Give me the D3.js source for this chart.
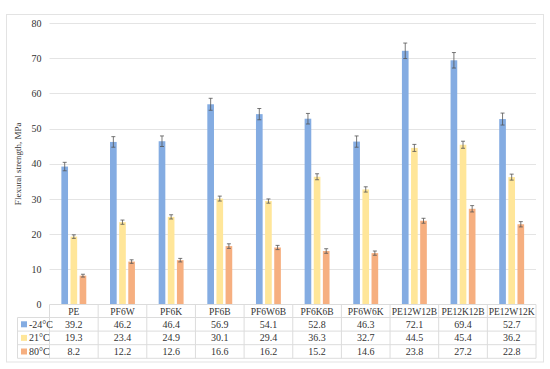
<!DOCTYPE html>
<html>
<head>
<meta charset="utf-8">
<script src="https://cdn.jsdelivr.net/npm/d3@7"></script>
<style>
  body { margin: 0; background: #fff; }
  svg { display: block; font-family: "Liberation Serif", "DejaVu Serif", serif; }
</style>
</head>
<body>
<svg id="chart" width="550" height="369"></svg>
<script>
"use strict";

const categories = ["PE", "PF6W", "PF6K", "PF6B", "PF6W6B", "PF6K6B", "PF6W6K", "PE12W12B", "PE12K12B", "PE12W12K"];
const seriesNames = ["-24°C", "21°C", "80°C"];
const seriesColors = ["#84ace2", "#ffe699", "#f6af80"];
const valsCold = [39.2, 46.2, 46.4, 56.9, 54.1, 52.8, 46.3, 72.1, 69.4, 52.7];
const valsRoom = [19.3, 23.4, 24.9, 30.1, 29.4, 36.3, 32.7, 44.5, 45.4, 36.2];
const valsHot = [8.2, 12.2, 12.6, 16.6, 16.2, 15.2, 14.6, 23.8, 27.2, 22.8];
const errCold = [1.2, 1.5, 1.5, 1.7, 1.6, 1.5, 1.6, 2.2, 2.2, 1.7];
const errRoom = [0.5, 0.6, 0.6, 0.7, 0.6, 0.85, 0.75, 1.0, 1.0, 0.85];
const errHot = [0.4, 0.5, 0.5, 0.65, 0.6, 0.65, 0.6, 0.7, 0.9, 0.75];
const yTicks = [0, 10, 20, 30, 40, 50, 60, 70, 80];

const series = [
  { name: seriesNames[0], color: seriesColors[0], values: valsCold, errs: errCold },
  { name: seriesNames[1], color: seriesColors[1], values: valsRoom, errs: errRoom },
  { name: seriesNames[2], color: seriesColors[2], values: valsHot, errs: errHot }
];

const svg = d3.select("#chart");
const plotLeft = 49.5, plotRight = 536, plotTop = 23, plotBottom = 304.5;
const tableLeft = 17.5, rowH = 13.6, headerH = 13;

// outer frame
svg.append("rect")
  .attr("x", 6.5).attr("y", 14.5)
  .attr("width", 537).attr("height", 347.5)
  .attr("fill", "none").attr("stroke", "#e3e3e3");

const x = d3.scaleBand().domain(categories).range([plotLeft, plotRight]);
const xs = d3.scaleBand().domain(seriesNames).range([0, x.bandwidth()]).paddingInner(0.27).paddingOuter(1.3);
const y = d3.scaleLinear().domain([0, 80]).range([plotBottom, plotTop]);

// gridlines
svg.append("g").selectAll("line").data(yTicks.slice(1)).join("line")
  .attr("x1", plotLeft).attr("x2", plotRight)
  .attr("y1", d => Math.round(y(d)) + 0.5).attr("y2", d => Math.round(y(d)) + 0.5)
  .attr("stroke", "#e4e4e4");

// y axis labels
const yAxis = d3.axisLeft(y).tickValues(yTicks).tickSize(0).tickPadding(8);
const yg = svg.append("g").attr("transform", `translate(${plotLeft},0)`).call(yAxis);
yg.select(".domain").remove();
yg.selectAll("text").attr("font-size", 10).attr("fill", "#333").attr("font-family", "Liberation Serif, serif");

svg.append("text")
  .attr("transform", `translate(21,${(plotTop + plotBottom) / 2}) rotate(-90)`)
  .attr("text-anchor", "middle")
  .attr("font-size", 9)
  .attr("fill", "#333")
  .text("Flexural strength, MPa");

// bars
const groups = svg.append("g").selectAll("g").data(series).join("g")
  .attr("fill", d => d.color);

groups.each(function(s) {
  const g = d3.select(this);
  g.selectAll("rect").data(categories).join("rect")
    .attr("x", (c) => x(c) + xs(s.name))
    .attr("width", xs.bandwidth())
    .attr("y", (c, i) => y(s.values[i]))
    .attr("height", (c, i) => y(0) - y(s.values[i]));

  // error bars
  const eg = g.append("g").attr("stroke", "#555").attr("stroke-width", 0.8);
  categories.forEach((c, i) => {
    const cx = x(c) + xs(s.name) + xs.bandwidth() / 2;
    const y1 = y(s.values[i] + s.errs[i]), y2 = y(s.values[i] - s.errs[i]);
    eg.append("line").attr("x1", cx).attr("x2", cx).attr("y1", y1).attr("y2", y2);
    eg.append("line").attr("x1", cx - 2).attr("x2", cx + 2).attr("y1", y1).attr("y2", y1);
    eg.append("line").attr("x1", cx - 2).attr("x2", cx + 2).attr("y1", y2).attr("y2", y2);
  });
});

// data table
const table = svg.append("g").attr("stroke", "#dcdcdc").attr("fill", "none");
const tableBottom = plotBottom + headerH + rowH * 3;
table.append("line").attr("x1", plotLeft).attr("x2", plotRight).attr("y1", plotBottom).attr("y2", plotBottom);
[0, 1, 2, 3].forEach(r => {
  const yy = plotBottom + headerH + rowH * r;
  table.append("line").attr("x1", tableLeft).attr("x2", plotRight).attr("y1", yy).attr("y2", yy);
});
table.append("line").attr("x1", tableLeft).attr("x2", tableLeft).attr("y1", plotBottom + headerH).attr("y2", tableBottom);
categories.concat([null]).forEach((c) => {
  const xx = c === null ? plotRight : x(c);
  table.append("line").attr("x1", xx).attr("x2", xx).attr("y1", plotBottom).attr("y2", tableBottom);
});

const txt = svg.append("g").attr("font-size", 10).attr("fill", "#333").attr("text-anchor", "middle");
categories.forEach(c => {
  txt.append("text").attr("x", x(c) + x.bandwidth() / 2).attr("y", plotBottom + headerH - 3)
    .attr("font-size", 9.5).text(c);
});
series.forEach((s, r) => {
  const rowMid = plotBottom + headerH + rowH * r + rowH / 2;
  svg.append("rect").attr("x", 21).attr("y", rowMid - 3).attr("width", 6).attr("height", 6).attr("fill", s.color);
  svg.append("text").attr("x", 29).attr("y", rowMid + 3.5).attr("font-size", 10).attr("fill", "#333").text(s.name);
  categories.forEach((c, i) => {
    txt.append("text").attr("x", x(c) + x.bandwidth() / 2).attr("y", rowMid + 3.5).text(s.values[i].toFixed(1));
  });
});
</script>
</body>
</html>
